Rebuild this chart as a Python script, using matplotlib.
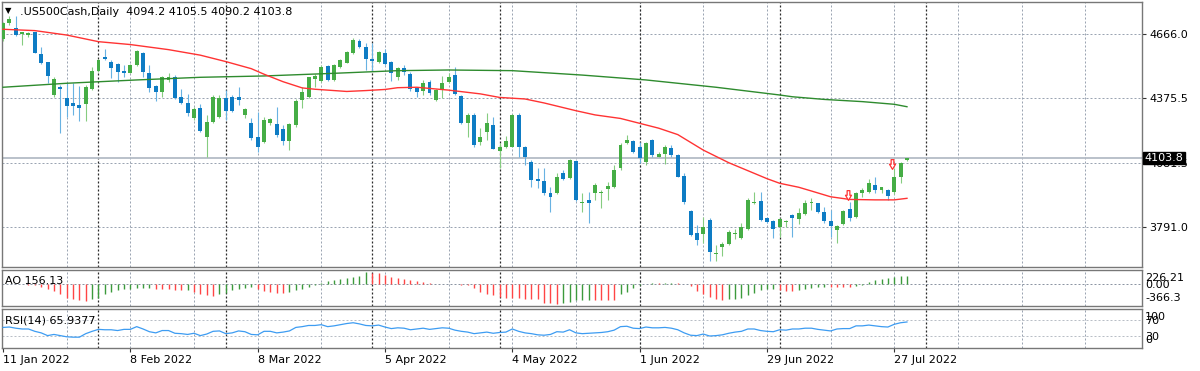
import numpy as np
import matplotlib
matplotlib.use("Agg")
import matplotlib.pyplot as plt
from matplotlib.path import Path
from matplotlib.transforms import ScaledTranslation

plt.rcParams['font.family'] = ['DejaVu Sans']

# ---------------- data ----------------
symbol_title = ".US500Cash,Daily  4094.2 4105.5 4090.2 4103.8"

opens = [4641, 4713, 4690, 4663, 4660, 4672, 4573, 4537, 4389, 4424,
         4374, 4351, 4344, 4347, 4415, 4499, 4562, 4540, 4528, 4496,
         4490, 4525, 4577, 4487, 4430, 4404, 4457, 4472, 4378, 4354,
         4287, 4329, 4198, 4269, 4288, 4374, 4381, 4378, 4299, 4264,
         4201, 4178, 4261, 4258, 4235, 4183, 4253, 4366, 4381, 4460,
         4454, 4520, 4457, 4517, 4535, 4577, 4634, 4607, 4550, 4540,
         4580, 4540, 4469, 4509, 4484, 4419, 4409, 4449, 4366, 4415,
         4449, 4479, 4384, 4264, 4299, 4178, 4223, 4253, 4138, 4156,
         4156, 4299, 4156, 4088, 4008, 4002, 3948, 3945, 4038, 4013,
         4092, 3900, 3915, 3945, 3948, 3963, 3975, 4058, 4171, 4181,
         4153, 4088, 4186, 4110, 4122, 4148, 4118, 4023, 3865, 3764,
         3761, 3824, 3671, 3704, 3716, 3761, 3741, 3782, 3900, 3912,
         3832, 3821, 3791, 3814, 3847, 3827, 3851, 3900, 3900, 3862,
         3821, 3779, 3806, 3874, 3839, 3945, 3952, 3982, 3960, 3960,
         3952, 4017, 4094.2]
highs = [4720, 4746, 4746, 4675, 4675, 4675, 4607, 4540, 4472, 4434,
         4442, 4442, 4430, 4434, 4517, 4550, 4595, 4547, 4532, 4525,
         4529, 4592, 4585, 4525, 4434, 4475, 4490, 4479, 4415, 4392,
         4336, 4348, 4299, 4389, 4389, 4412, 4389, 4424, 4329, 4284,
         4314, 4291, 4284, 4336, 4253, 4261, 4369, 4424, 4472, 4484,
         4525, 4525, 4529, 4550, 4589, 4645, 4641, 4625, 4625, 4589,
         4595, 4543, 4517, 4525, 4494, 4424, 4457, 4457, 4415, 4475,
         4490, 4517, 4389, 4306, 4306, 4238, 4309, 4288, 4171, 4204,
         4302, 4306, 4159, 4096, 4058, 4058, 3975, 4038, 4050, 4098,
         4095, 3945, 3952, 3990, 3960, 3997, 4073, 4171, 4208, 4186,
         4178, 4178, 4189, 4133, 4163, 4163, 4122, 4035, 3869, 3802,
         3839, 3832, 3711, 3726, 3779, 3782, 3812, 3922, 3952, 3952,
         3839, 3824, 3832, 3824, 3850, 3877, 3915, 3922, 3902, 3884,
         3869, 3802, 3869, 3907, 3952, 3967, 4008, 4017, 3975, 3963,
         4058, 4088, 4105.5]
lows = [4634, 4705, 4656, 4615, 4653, 4577, 4529, 4442, 4381, 4219,
        4288, 4299, 4272, 4273, 4412, 4494, 4547, 4464, 4449, 4469,
        4487, 4522, 4472, 4404, 4362, 4381, 4449, 4371, 4348, 4296,
        4276, 4223, 4107, 4261, 4284, 4276, 4314, 4344, 4284, 4186,
        4133, 4171, 4253, 4201, 4163, 4140, 4246, 4329, 4374, 4424,
        4449, 4452, 4452, 4512, 4532, 4574, 4603, 4502, 4499, 4535,
        4525, 4454, 4457, 4479, 4409, 4381, 4389, 4389, 4363, 4374,
        4442, 4389, 4258, 4201, 4156, 4163, 4186, 4143, 4058, 4148,
        4153, 4110, 4073, 3972, 3967, 3937, 3862, 3942, 4005, 4008,
        3912, 3862, 3812, 3915, 3877, 3915, 3967, 4050, 4168, 4128,
        4080, 4073, 4110, 4107, 4077, 4110, 4017, 3896, 3752, 3711,
        3722, 3640, 3640, 3662, 3711, 3737, 3737, 3779, 3896, 3821,
        3809, 3741, 3746, 3794, 3746, 3806, 3847, 3869, 3854, 3812,
        3746, 3722, 3802, 3821, 3832, 3930, 3948, 3945, 3948, 3915,
        3942, 3993, 4090.2]
closes = [4713, 4731, 4660, 4672, 4668, 4580, 4532, 4475, 4461, 4415,
          4339, 4339, 4332, 4424, 4499, 4547, 4552, 4509, 4494, 4490,
          4525, 4588, 4494, 4419, 4404, 4469, 4472, 4377, 4354, 4306,
          4324, 4226, 4269, 4381, 4374, 4318, 4318, 4366, 4324, 4193,
          4156, 4276, 4279, 4208, 4183, 4258, 4363, 4404, 4469, 4475,
          4517, 4457, 4525, 4547, 4585, 4638, 4607, 4550, 4543, 4585,
          4529, 4487, 4510, 4494, 4415, 4404, 4445, 4397, 4412, 4442,
          4472, 4394, 4261, 4299, 4163, 4201, 4264, 4145, 4156, 4183,
          4299, 4156, 4110, 4005, 4000, 3945, 3927, 4020, 4008, 4095,
          3915, 3907, 3900, 3982, 3952, 3978, 4050, 4163, 4186, 4133,
          4103, 4174, 4118, 4122, 4156, 4118, 4020, 3907, 3756, 3734,
          3791, 3681, 3677, 3714, 3771, 3767, 3791, 3915, 3907, 3824,
          3817, 3782, 3827, 3820, 3832, 3854, 3902, 3907, 3862, 3821,
          3797, 3797, 3866, 3832, 3945, 3960, 3993, 3960, 3972, 3933,
          4017, 4083, 4103.8]

ma_fast_idx = [0, 5, 10, 15, 20, 26, 31, 35, 39, 41, 44, 47, 49, 52, 54, 57,
               60, 62, 65, 70, 75, 78, 82, 85, 90, 93, 97, 100, 103, 106,
               110, 114, 117, 120, 122, 125, 127, 130, 133, 137, 140, 142]
ma_fast_val = [4686, 4680, 4660, 4630, 4617, 4594, 4569, 4540, 4508, 4483,
               4449, 4421, 4415, 4409, 4405, 4409, 4414, 4422, 4424, 4411,
               4394, 4378, 4371, 4353, 4318, 4299, 4283, 4261, 4239, 4210,
               4140, 4083, 4047, 4011, 3990, 3972, 3955, 3929, 3917, 3915,
               3915, 3922]
ma_slow_idx = [0, 10, 21, 31, 41, 52, 62, 70, 80, 91, 101, 112, 122, 124,
               129, 135, 140, 142]
ma_slow_val = [4424, 4442, 4457, 4469, 4475, 4487, 4499, 4502, 4499, 4479,
               4457, 4424, 4389, 4381, 4369, 4359, 4347, 4336]

ao_values = [-2, 4, 3, -3, -8, -16, -44, -82, -126, -190,
             -253, -284, -303, -310, -284, -253, -190, -145, -107, -95,
             -82, -76, -70, -69, -82, -85, -95, -107, -114, -107,
             -145, -190, -209, -215, -190, -158, -114, -82, -70, -57,
             -95, -126, -145, -158, -164, -145, -107, -82, -44, -19,
             19, 63, 82, 107, 126, 145, 164, 226.21, 221, 209,
             177, 145, 126, 107, 82, 63, 44, 32, 13, 6,
             2, -3, -8, -13, -63, -139, -190, -209, -240, -253,
             -265, -268, -272, -284, -286, -348, -362, -366.3, -348, -335,
             -303, -300, -297, -300, -302, -303, -305, -190, -145, -63,
             -19, 3, 19, 16, 20, 32, 30, 5, -32, -126,
             -190, -234, -284, -290, -280, -272, -253, -209, -158, -114,
             -95, -82, -107, -126, -128, -107, -82, -63, -51, -44,
             -46, -57, -58, -59, -32, -6, 44, 82, 107, 126,
             145, 150, 156.13]
ao_axis_labels = ["226.21", "0.00", "-366.3"]

rsi_values = [52, 53, 50, 48, 48, 42, 38, 31, 34, 31,
              28, 27, 27, 36, 42, 47, 46, 46, 44, 47,
              47, 54, 48, 41, 38, 44, 44, 37, 36, 34,
              37, 31, 35, 42, 43, 36, 38, 43, 41, 34,
              33, 42, 42, 38, 40, 43, 52, 54, 57, 57,
              59, 54, 56, 59, 62, 64, 61, 57, 56, 58,
              53, 49, 51, 50, 46, 48, 50, 47, 49, 51,
              50, 45, 42, 40, 36, 38, 40, 37, 39, 40,
              48, 42, 38, 36, 33, 32, 34, 41, 40, 46,
              38, 36, 37, 38, 39, 41, 45, 54, 55, 50,
              49, 53, 51, 51, 52, 50, 46, 38, 32, 31,
              35, 30, 31, 33, 37, 40, 42, 48, 48, 44,
              42, 41, 46, 45, 48, 48, 50, 50, 47, 45,
              43, 48, 49, 49, 56, 56, 58, 56, 54, 53,
              60, 64, 65.9377]
rsi_levels = [70, 30]
rsi_axis_labels = ["100", "70", "30", "0"]

signal_idx = [133, 140]
signal_price = [3937, 4077]

price_ticks = [3791.0, 4081.5, 4375.5, 4666.0]
date_idx = [0, 20, 40, 60, 80, 100, 120, 140]
date_labels = ["11 Jan 2022", "8 Feb 2022", "8 Mar 2022", "5 Apr 2022",
               "4 May 2022", "1 Jun 2022", "29 Jun 2022", "27 Jul 2022"]
grid_idx = list(range(10, 180, 10))
month_sep_idx = [15, 35, 58, 78, 100, 122, 145]

# ---------------- figure ----------------
W, H = 1200, 371
fig = plt.figure(figsize=(W / 100, H / 100), dpi=100)
fig.patch.set_facecolor('white')


def add_axes_px(x0, y0, x1, y1):
    return fig.add_axes([x0 / W, 1 - y1 / H, (x1 - x0) / W, (y1 - y0) / H])


ax = add_axes_px(2, 2, 1142, 267)
ax_ao = add_axes_px(2, 269.5, 1142, 306)
ax_rsi = add_axes_px(2, 308.7, 1142, 347.7)

BAR_PX = 6.366
x_lo = -1.0 / BAR_PX
x_hi = x_lo + 1140.0 / BAR_PX

GRID_C = '#9ba4b2'
for a in (ax, ax_ao, ax_rsi):
    a.set_xlim(x_lo, x_hi)
    a.set_facecolor('white')
    for s in a.spines.values():
        s.set_color('#777777')
        s.set_linewidth(1.0)
    for g in grid_idx:
        a.axvline(g, color=GRID_C, lw=0.72, ls=(0, (2, 2)), zorder=0.5)
    for m in month_sep_idx:
        a.axvline(m, color='#2a2a2a', lw=0.9, ls=(0, (1.6, 1.6)), zorder=0.6)
    a.tick_params(which='both', length=0)
    a.set_xticks([])
    a.set_yticks([])

# ---- main price panel ----
o = np.array(opens, float)
h = np.array(highs, float)
l = np.array(lows, float)
c = np.array(closes, float)
idx = np.arange(len(o))
up = c >= o

ax.set_ylim(3611.6, 4809.3)
for p in price_ticks:
    ax.axhline(p, color=GRID_C, lw=0.72, ls=(0, (2, 2)), zorder=0.5)
ax.axhline(c[-1], color='#b4bcc6', lw=1.3, zorder=1)

wick_cols = np.where(up, '#86cc80', '#68b2e2')
body_cols = np.where(up, '#45ad45', '#0e7cc4')
ax.vlines(idx, l, h, colors=wick_cols, lw=0.8, zorder=3)
min_h = 4.5
bottoms = np.minimum(o, c)
heights = np.maximum(np.abs(c - o), min_h)
ax.bar(idx, heights, width=0.62, bottom=bottoms, color=body_cols, lw=0, zorder=4)

ax.plot(ma_slow_idx, ma_slow_val, color='#2e8b2e', lw=1.0, zorder=5)
ax.plot(ma_fast_idx, ma_fast_val, color='#ff3333', lw=1.0, zorder=5)

arrow = Path([(-0.28, 1.0), (0.28, 1.0), (0.28, 0.05), (0.62, 0.05), (0.0, -1.0),
              (-0.62, 0.05), (-0.28, 0.05), (-0.28, 1.0)],
             [Path.MOVETO] + [Path.LINETO] * 6 + [Path.CLOSEPOLY])
ax.plot(np.array(signal_idx) - 0.3, signal_price, ls='none', marker=arrow,
        markersize=7, mfc='white', mec='#ff3333', mew=0.9, zorder=6)

ax.yaxis.tick_right()
ax.set_yticks(price_ticks)
ax.set_yticklabels([f"{p:.1f}" for p in price_ticks])
ax.tick_params(axis='y', right=True, left=False, length=3, width=0.8,
               color='#333333', pad=2.5, labelsize=8, labelcolor='black')

off = ScaledTranslation(2.8 / 100, 0, fig.dpi_scale_trans)
ax.text(1.0, c[-1], f"{c[-1]:.1f}", transform=ax.get_yaxis_transform() + off,
        color='white', fontsize=8, ha='left', va='center', zorder=10,
        bbox=dict(boxstyle='square,pad=0.12', fc='black', ec='black'))

fig.text(8.5 / W, 1 - 11 / H, '\u25bc', fontsize=6, ha='center', va='center',
         color='black')
fig.text(20 / W, 1 - 12 / H, symbol_title, fontsize=8, ha='left', va='center',
         color='black')

# ---- AO panel ----
ao = np.array(ao_values, float)
ao_diff = np.diff(ao, prepend=ao[0] - 1)
ao_cols = np.where(ao_diff > 0, '#3c9a3c', '#ff4545')
ax_ao.set_ylim(-410, 279)
ax_ao.axhline(0, color='#8c95a3', lw=0.72, ls=(0, (2, 2)), zorder=0.7)
ax_ao.vlines(idx, 0, ao, colors=ao_cols, lw=1.0, zorder=3)
ax_ao.text(3 / 1140, 0.685, f"AO {ao[-1]:.2f}", transform=ax_ao.transAxes,
           fontsize=8, ha='left', va='center', zorder=6)
off_r = ScaledTranslation(3 / 100, 0, fig.dpi_scale_trans)
for lab, yf in zip(ao_axis_labels, [0.767, 0.575, 0.219]):
    ax_ao.text(1.0, yf, lab, transform=ax_ao.transAxes + off_r, fontsize=8,
               ha='left', va='center', clip_on=False)

# ---- RSI panel ----
ax_rsi.set_ylim(0, 100)
for lv in rsi_levels:
    ax_rsi.axhline(lv, color='#b9bec6', lw=0.72, ls=(0, (2, 2)), zorder=0.7)
ax_rsi.plot(idx, rsi_values, color='#3d9cf2', lw=0.9, zorder=3)
ax_rsi.text(3 / 1140, 0.71, f"RSI(14) {rsi_values[-1]:.4f}", transform=ax_rsi.transAxes,
            fontsize=8, ha='left', va='center', zorder=6)
for lab, yf in zip(rsi_axis_labels, [0.782, 0.69, 0.287, 0.21]):
    ax_rsi.text(1.0, yf, lab, transform=ax_rsi.transAxes + off_r, fontsize=8,
                ha='left', va='center', clip_on=False)

ax_rsi.set_xticks(date_idx)
ax_rsi.set_xticklabels(date_labels, fontsize=8)
for t in ax_rsi.get_xticklabels():
    t.set_ha('left')
ax_rsi.tick_params(axis='x', bottom=True, length=3, width=0.8, color='#333333',
                   pad=2, labelsize=8)

fig.savefig('out.png', dpi=100, facecolor='white')
